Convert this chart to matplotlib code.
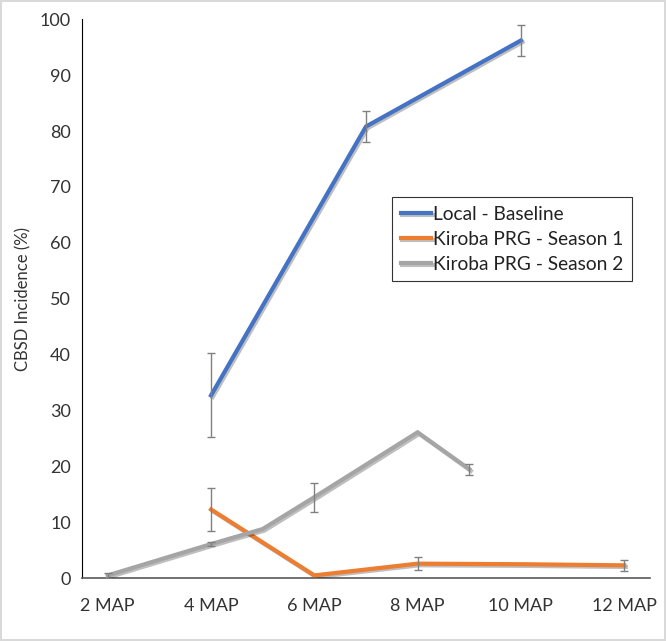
import matplotlib
matplotlib.use('Agg')
import matplotlib.pyplot as plt
import matplotlib.patheffects as pe

# Data (months after planting)
tick_months = [2, 4, 6, 8, 10, 12]
tick_labels = ['2 MAP', '4 MAP', '6 MAP', '8 MAP', '10 MAP', '12 MAP']

local_x = [4, 7, 10]
local_y = [32.7, 80.8, 96.2]
local_err = [7.5, 2.8, 2.7]

s1_x = [4, 6, 8, 10, 12]
s1_y = [12.3, 0.5, 2.6, 2.5, 2.3]
s1_err = [3.9, 0, 1.2, 0, 1.0]

s2_x = [2, 4, 5, 6, 8, 9]
s2_y = [0.5, 6.1, 8.8, 14.5, 26.1, 19.5]
s2_err = [0.5, 0.4, 0, 2.6, 0, 1.0]

plt.rcParams['font.family'] = ['Lato', 'DejaVu Sans']

fig = plt.figure(figsize=(6.66, 6.41), dpi=100)
fig.patch.set_edgecolor('#d9d9d9')
fig.patch.set_linewidth(1.5)
ax = fig.add_axes([0.123, 0.098, 0.853, 0.872])

shadow = [pe.SimpleLineShadow(offset=(1.2, -1.2), shadow_color='#000000', alpha=0.25), pe.Normal()]

series = [
    (local_x, local_y, local_err, '#4472C4', 'Local - Baseline'),
    (s1_x, s1_y, s1_err, '#ED7D31', 'Kiroba PRG - Season 1'),
    (s2_x, s2_y, s2_err, '#A5A5A5', 'Kiroba PRG - Season 2'),
]
for xs, ys, errs, col, lab in series:
    ax.plot(xs, ys, color=col, lw=3, label=lab, path_effects=shadow,
            solid_joinstyle='miter', zorder=3)
    ex = [x for x, e in zip(xs, errs) if e > 0]
    ey = [y for y, e in zip(ys, errs) if e > 0]
    ee = [e for e in errs if e > 0]
    ax.errorbar(ex, ey, yerr=ee, fmt='none', ecolor='#808080', elinewidth=1,
                capsize=3, capthick=1, zorder=4)

ax.set_xlim(1.5, 12.5)
ax.set_ylim(0, 100)
ax.set_xticks(tick_months)
ax.set_xticklabels(tick_labels)
ax.set_yticks(range(0, 101, 10))
ax.tick_params(length=0, labelsize=13, colors='#333333', pad=8)
ax.tick_params(axis='x', pad=14)
ax.set_ylabel('CBSD Incidence (%)', fontsize=12, color='#333333', labelpad=6)

for s in ['top', 'right']:
    ax.spines[s].set_visible(False)
ax.spines['left'].set_color('#000000')
ax.spines['bottom'].set_color('#595959')
ax.spines['bottom'].set_linewidth(1.2)

leg = ax.legend(loc='upper left', bbox_to_anchor=(0.546, 0.682), fontsize=13.8,
                frameon=True, fancybox=False, handlelength=1.6, handletextpad=0.1,
                borderpad=0.45, labelspacing=0.42, borderaxespad=0)
leg.get_frame().set_edgecolor('#000000')
leg.get_frame().set_linewidth(0.8)
for t in leg.get_texts():
    t.set_color('#222222')

fig.savefig('out.png', dpi=100)
